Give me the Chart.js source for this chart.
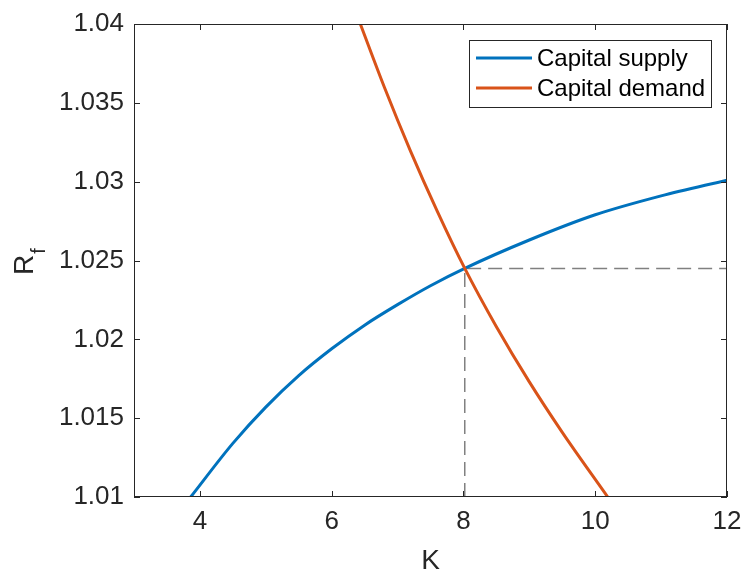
<!DOCTYPE html>
<html>
<head>
<meta charset="utf-8">
<script src="https://cdn.jsdelivr.net/npm/chart.js@4.4.1/dist/chart.umd.min.js"></script>
<style>
  html, body { margin: 0; padding: 0; background: #fff; }
  canvas { display: block; }
</style>
</head>
<body>
<canvas id="chart" width="743" height="574"></canvas>
<script>
// values
const supplyK = [3.86, 4.5, 5, 5.5, 6, 6.5, 7, 7.5, 8.02, 9, 10, 11, 12];
const supplyR = [1.01, 1.0134, 1.0157, 1.0177, 1.0194, 1.0209, 1.0222, 1.0234, 1.0245, 1.0263, 1.0279, 1.0291, 1.0301];

const demandK = [6.435, 6.8, 7.2, 7.6, 8.02, 8.5, 9, 9.5, 10.19];
const demandR = [1.04, 1.03599, 1.03191, 1.02815, 1.0245, 1.0208, 1.0173, 1.0141, 1.01];

// equilibrium guide lines
const guideK = [8.02, 8.02, 12];
const guideR = [1.01, 1.0245, 1.0245];

const xTicks = [4, 6, 8, 10, 12];
const yTicks = [1.01, 1.015, 1.02, 1.025, 1.03, 1.035, 1.04];

const seriesNames = ["Capital supply", "Capital demand"];
const BLUE = "#0072BD";
const ORANGE = "#D95319";
const AXIS = "#262626";
const FONT = "'Liberation Sans', Arial, Helvetica, sans-serif";

const toPoints = (xs, ys) => xs.map((x, i) => ({ x: x, y: ys[i] }));

// frame, inward ticks, axis labels and legend, MATLAB style
const matlabBits = {
  id: "matlabBits",
  afterDraw(chart) {
    const ctx = chart.ctx;
    const a = chart.chartArea;
    const xs = chart.scales.x, ys = chart.scales.y;
    ctx.save();
    ctx.strokeStyle = AXIS;
    ctx.lineWidth = 1;
    ctx.strokeRect(a.left + 0.5, a.top + 0.5, a.right - a.left - 1, a.bottom - a.top - 1);
    ctx.beginPath();
    xTicks.forEach(v => {
      const px = Math.round(xs.getPixelForValue(v)) + 0.5;
      ctx.moveTo(px, a.bottom); ctx.lineTo(px, a.bottom - 6);
      ctx.moveTo(px, a.top); ctx.lineTo(px, a.top + 6);
    });
    yTicks.forEach(v => {
      const py = Math.round(ys.getPixelForValue(v)) + 0.5;
      ctx.moveTo(a.left, py); ctx.lineTo(a.left + 6, py);
      ctx.moveTo(a.right, py); ctx.lineTo(a.right - 6, py);
    });
    ctx.stroke();

    // x label
    ctx.fillStyle = AXIS;
    ctx.font = "28px " + FONT;
    ctx.textAlign = "center";
    ctx.textBaseline = "middle";
    ctx.fillText("K", (a.left + a.right) / 2, 561);

    // y label R_f, rotated
    ctx.save();
    ctx.translate(33, 275);
    ctx.rotate(-Math.PI / 2);
    ctx.textAlign = "left";
    ctx.textBaseline = "alphabetic";
    ctx.font = "28px " + FONT;
    ctx.fillText("R", 0, 0);
    const rw = ctx.measureText("R").width;
    ctx.font = "20px " + FONT;
    ctx.fillText("f", rw + 1, 12);
    ctx.restore();

    // legend
    const lx = 469, ly = 40, lw = 242, lh = 67;
    ctx.fillStyle = "#fff";
    ctx.fillRect(lx, ly, lw, lh);
    ctx.strokeStyle = AXIS;
    ctx.lineWidth = 1;
    ctx.strokeRect(lx + 0.5, ly + 0.5, lw, lh);
    const rows = [[BLUE, seriesNames[0], 58], [ORANGE, seriesNames[1], 88]];
    ctx.font = "24px " + FONT;
    ctx.textAlign = "left";
    ctx.textBaseline = "middle";
    rows.forEach(([c, t, y]) => {
      ctx.strokeStyle = c;
      ctx.lineWidth = 3;
      ctx.beginPath();
      ctx.moveTo(476, y); ctx.lineTo(532, y);
      ctx.stroke();
      ctx.fillStyle = "#000";
      ctx.fillText(t, 537, y + 1);
    });
    ctx.restore();
  }
};

new Chart(document.getElementById("chart"), {
  type: "line",
  data: {
    datasets: [
      {
        label: seriesNames[0],
        data: toPoints(supplyK, supplyR),
        borderColor: BLUE,
        borderWidth: 3,
        pointRadius: 0,
        cubicInterpolationMode: "monotone",
        order: 2,
      },
      {
        label: seriesNames[1],
        data: toPoints(demandK, demandR),
        borderColor: ORANGE,
        borderWidth: 3,
        pointRadius: 0,
        cubicInterpolationMode: "monotone",
        order: 1,
      },
      {
        label: "guide",
        data: toPoints(guideK, guideR),
        borderColor: "#808080",
        borderWidth: 1.5,
        borderDash: [14, 7],
        pointRadius: 0,
        tension: 0,
        order: 3,
      },
    ],
  },
  options: {
    responsive: false,
    animation: false,
    devicePixelRatio: 1,
    layout: { padding: { top: 24, right: 16, left: 0, bottom: 0 } },
    plugins: { legend: { display: false }, tooltip: { enabled: false } },
    scales: {
      x: {
        type: "linear",
        min: 3,
        max: 12,
        afterBuildTicks: s => { s.ticks = xTicks.map(v => ({ value: v })); },
        afterFit: s => { s.height = 77; s.paddingLeft = 0; s.paddingRight = 0; },
        grid: { display: false, drawTicks: false },
        border: { display: false },
        ticks: {
          color: AXIS,
          padding: 9,
          maxRotation: 0,
          font: { family: FONT, size: 26 },
          callback: v => String(v),
        },
      },
      y: {
        type: "linear",
        min: 1.01,
        max: 1.04,
        afterBuildTicks: s => { s.ticks = yTicks.map(v => ({ value: v })); },
        afterFit: s => { s.width = 134; s.paddingTop = 0; s.paddingBottom = 0; },
        grid: { display: false, drawTicks: false },
        border: { display: false },
        ticks: {
          color: AXIS,
          padding: 10,
          font: { family: FONT, size: 26 },
          callback: v => String(Number(v.toFixed(3))),
        },
      },
    },
  },
  plugins: [matlabBits],
});
</script>
</body>
</html>
